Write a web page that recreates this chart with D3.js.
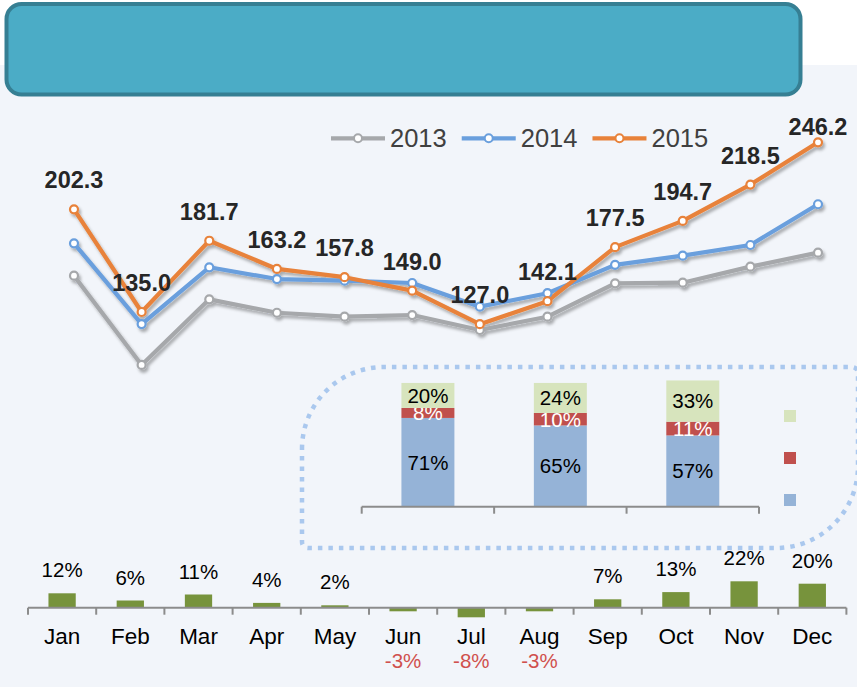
<!DOCTYPE html>
<html><head><meta charset="utf-8">
<script src="https://cdn.jsdelivr.net/npm/d3@7"></script>
<style>
html,body{margin:0;padding:0;background:#fff;}
svg{display:block;font-family:"Liberation Sans",Arial,sans-serif;}
</style></head>
<body>
<svg id="chart" width="857" height="687"></svg>
<script>
// ---- data ----
const months = ["Jan","Feb","Mar","Apr","May","Jun","Jul","Aug","Sep","Oct","Nov","Dec"];
const years = ["2013","2014","2015"];
const s2013 = [158.8,100.3,143.3,134.5,131.9,133.0,123.2,131.9,153.8,154.2,164.7,173.9];
const s2014 = [180.0,127.1,164.3,156.6,155.5,154.0,138.5,147.3,165.9,171.9,178.9,205.6];
const s2015 = [202.3,135.0,181.7,163.2,157.8,149.0,127.0,142.1,177.5,194.7,218.5,246.2];
const growth = [12,6,11,4,2,-3,-8,-3,7,13,22,20];
const insetGroups = ["2013","2014","2015"];
const shareBottom = [71,65,57];
const shareMiddle = [8,10,11];
const shareTop = [20,24,33];

const seriesColors = ["#a6a8ab","#6a9fdd","#e8823a"];
const seriesData = [s2013, s2014, s2015];

const svg = d3.select("#chart");
const defs = svg.append("defs");
const f = defs.append("filter").attr("id","shadow").attr("x","-10%").attr("y","-10%").attr("width","130%").attr("height","140%");
f.append("feDropShadow").attr("dx",2).attr("dy",3).attr("stdDeviation",1.8).attr("flood-color","#000").attr("flood-opacity",0.3);

// backgrounds
svg.append("rect").attr("x",0).attr("y",65).attr("width",857).attr("height",622).attr("fill","#f2f5fa");
svg.append("rect").attr("x",6.5).attr("y",4).attr("width",794).attr("height",90.5).attr("rx",15).attr("ry",15)
  .attr("fill","#4bacc6").attr("stroke","#367f93").attr("stroke-width",4);

// ---- inset dotted frame ----
(function(){
  const x0=302,y0=367,x1=858,y1=548,R=82,r=6;
  const p = `M${x0},${y0+R} A${R},${R} 0 0 1 ${x0+R},${y0} L${x1-r},${y0} A${r},${r} 0 0 1 ${x1},${y0+r} L${x1},${y1-R} A${R},${R} 0 0 1 ${x1-R},${y1} L${x0+r},${y1} A${r},${r} 0 0 1 ${x0},${y1-r} Z`;
  svg.append("path").attr("d",p).attr("fill","none").attr("stroke","#aac8ee").attr("stroke-width",4.5).attr("stroke-dasharray","4.5,6");
})();

// ---- inset stacked bars ----
const xi = d3.scaleBand().domain(insetGroups).range([361.7,759]).paddingInner(0.6).paddingOuter(0.3);
const yi = d3.scaleLinear().domain([0,100]).range([506.7,381.7]);
const stackLayers = [
  {vals: shareBottom, color:"#95b3d7", text:"#000"},
  {vals: shareMiddle, color:"#c0504d", text:"#fff"},
  {vals: shareTop, color:"#d7e4bd", text:"#000"}
];
insetGroups.forEach((g,i)=>{
  let acc = 0;
  stackLayers.forEach(L=>{
    const v = L.vals[i];
    const yTop = yi(acc+v), yBot = yi(acc);
    svg.append("rect").attr("x",xi(g)).attr("y",yTop).attr("width",xi.bandwidth()).attr("height",yBot-yTop).attr("fill",L.color);
    svg.append("text").attr("x",xi(g)+xi.bandwidth()/2).attr("y",(yTop+yBot)/2).attr("dy","0.36em")
      .attr("text-anchor","middle").attr("font-size",20.5).attr("fill",L.text).text(v+"%");
    acc += v;
  });
});
// inset axis
const ie = d3.scaleLinear().domain([0,insetGroups.length]).range([361.7,759]);
svg.append("line").attr("x1",ie(0)).attr("x2",ie(3)).attr("y1",yi(0)).attr("y2",yi(0)).attr("stroke","#8c8c8c").attr("stroke-width",2);
d3.range(insetGroups.length+1).forEach(k=>{
  svg.append("line").attr("x1",ie(k)).attr("x2",ie(k)).attr("y1",yi(0)).attr("y2",yi(0)+7).attr("stroke","#8c8c8c").attr("stroke-width",2);
});
// inset legend squares
[{c:"#d7e4bd",y:410},{c:"#c0504d",y:452},{c:"#95b3d7",y:494}].forEach(d=>{
  svg.append("rect").attr("x",784).attr("y",d.y).attr("width",12).attr("height",12).attr("fill",d.c);
});

// ---- line chart ----
const x = d3.scalePoint().domain(months).range([74,818]);
const y = d3.scaleLinear().domain([0,300]).range([518,60.2]);
const line = d3.line().x((d,i)=>x(months[i])).y(d=>y(d));
const lg = svg.append("g").attr("filter","url(#shadow)");
seriesData.forEach((s,k)=>{
  lg.append("path").datum(s).attr("d",line).attr("fill","none").attr("stroke",seriesColors[k]).attr("stroke-width",4.2).attr("stroke-linejoin","round");
});
seriesData.forEach((s,k)=>{
  lg.selectAll(null).data(s).enter().append("circle")
    .attr("cx",(d,i)=>x(months[i])).attr("cy",d=>y(d)).attr("r",4)
    .attr("fill","#fff").attr("stroke",seriesColors[k]).attr("stroke-width",2.2);
});
// value labels (2015)
const plotTop = 118;
svg.selectAll(null).data(s2015).enter().append("text")
  .attr("x",(d,i)=>x(months[i])).attr("y",d=>Math.max(y(d)-21, plotTop+17))
  .attr("text-anchor","middle").attr("font-weight","bold").attr("font-size",23.5).attr("fill","#262626")
  .text(d=>d.toFixed(1));

// legend
(function(){
  let cx = 331;
  years.forEach((yr,k)=>{
    svg.append("line").attr("x1",cx).attr("x2",cx+54).attr("y1",138.3).attr("y2",138.3).attr("stroke",seriesColors[k]).attr("stroke-width",4.2);
    svg.append("circle").attr("cx",cx+27).attr("cy",138.3).attr("r",4).attr("fill","#fff").attr("stroke",seriesColors[k]).attr("stroke-width",2);
    const t = svg.append("text").attr("x",cx+59).attr("y",146.7).attr("font-size",25.5).attr("fill","#404040").text(yr);
    cx = cx + 59 + t.node().getComputedTextLength() + 15;
  });
})();

// ---- growth bars ----
const xb = d3.scaleBand().domain(months).range([28,846.4]).paddingInner(0.6).paddingOuter(0.3);
const yb = d3.scaleLinear().domain([0,10]).range([607.7,595.7]);
const xe = d3.scaleLinear().domain([0,months.length]).range([28,846.4]);
svg.selectAll(null).data(growth).enter().append("rect")
  .attr("x",(d,i)=>xb(months[i])).attr("width",xb.bandwidth())
  .attr("y",d=>Math.min(yb(d),yb(0))).attr("height",d=>Math.abs(yb(d)-yb(0)))
  .attr("fill","#77933c");
svg.append("line").attr("x1",xe(0)).attr("x2",xe(12)).attr("y1",yb(0)).attr("y2",yb(0)).attr("stroke","#8c8c8c").attr("stroke-width",2);
d3.range(months.length+1).forEach(k=>{
  svg.append("line").attr("x1",xe(k)).attr("x2",xe(k)).attr("y1",yb(0)).attr("y2",yb(0)+7).attr("stroke","#8c8c8c").attr("stroke-width",2);
});
// month labels
svg.selectAll(null).data(months).enter().append("text")
  .attr("x",d=>xb(d)+xb.bandwidth()/2).attr("y",644.3).attr("text-anchor","middle")
  .attr("font-size",22.5).attr("fill","#000").text(d=>d);
// growth labels
svg.selectAll(null).data(growth).enter().append("text")
  .attr("x",(d,i)=>xb(months[i])+xb.bandwidth()/2)
  .attr("y",d=> d>=0 ? yb(d)-16 : 668.3)
  .attr("text-anchor","middle").attr("font-size",20.5)
  .attr("fill",d=> d>=0 ? "#000" : "#d0504d")
  .text(d=>d+"%");
</script>
</body></html>
